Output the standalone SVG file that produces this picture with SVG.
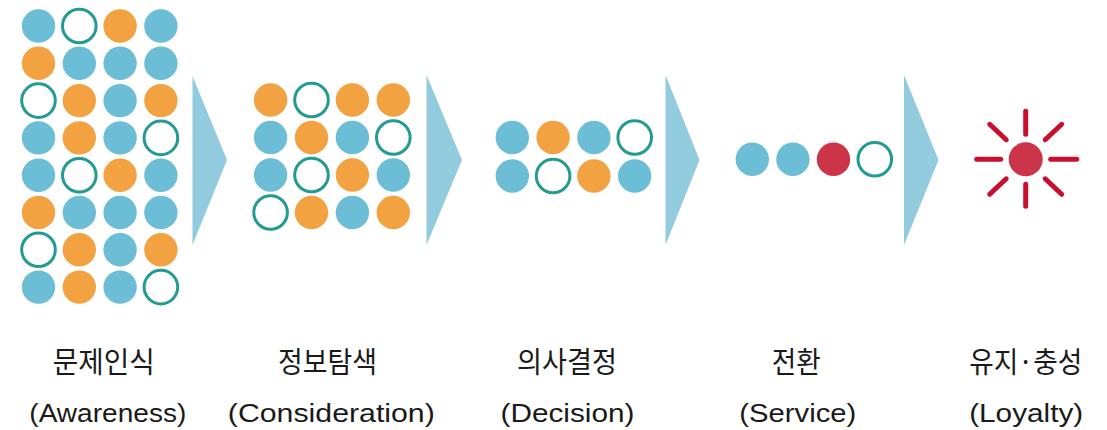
<svg xmlns="http://www.w3.org/2000/svg" width="1107" height="430" viewBox="0 0 1107 430">
  <style>
    .b { fill: #6bbed6; }
    .o { fill: #f2a240; }
    .r { fill: none; stroke: #249b91; stroke-width: 3; }
    .red { fill: #cc344a; }
    .ray { stroke: #c8102e; stroke-width: 5; stroke-linecap: round; }
    .arrow { fill: #92cbde; }
    .ko { font-family: "Noto Sans CJK KR", "Noto Sans", sans-serif; font-size: 29px; fill: #1a1a1a; text-anchor: middle; }
    .en { font-family: "Liberation Sans", "Noto Sans", sans-serif; font-size: 26px; fill: #1a1a1a; text-anchor: middle; }
  </style>
  <defs>
    <circle id="dB" r="16.7" class="b"/>
    <circle id="dO" r="16.7" class="o"/>
    <circle id="dR" r="16.8" class="r"/>
  </defs>

  <rect width="1107" height="430" fill="#ffffff"/>

  <!-- Stage 1: Awareness (8 x 4 grid) -->
  <g id="awareness">
    <g transform="translate(0,26)">
      <use href="#dB" x="38.5"/><use href="#dR" x="79.3"/><use href="#dO" x="120.1"/><use href="#dB" x="160.9"/>
    </g>
    <g transform="translate(0,63.3)">
      <use href="#dO" x="38.5"/><use href="#dB" x="79.3"/><use href="#dB" x="120.1"/><use href="#dB" x="160.9"/>
    </g>
    <g transform="translate(0,100.6)">
      <use href="#dR" x="38.5"/><use href="#dO" x="79.3"/><use href="#dB" x="120.1"/><use href="#dO" x="160.9"/>
    </g>
    <g transform="translate(0,137.9)">
      <use href="#dB" x="38.5"/><use href="#dO" x="79.3"/><use href="#dB" x="120.1"/><use href="#dR" x="160.9"/>
    </g>
    <g transform="translate(0,175.2)">
      <use href="#dB" x="38.5"/><use href="#dR" x="79.3"/><use href="#dO" x="120.1"/><use href="#dB" x="160.9"/>
    </g>
    <g transform="translate(0,212.5)">
      <use href="#dO" x="38.5"/><use href="#dB" x="79.3"/><use href="#dB" x="120.1"/><use href="#dB" x="160.9"/>
    </g>
    <g transform="translate(0,249.8)">
      <use href="#dR" x="38.5"/><use href="#dO" x="79.3"/><use href="#dB" x="120.1"/><use href="#dO" x="160.9"/>
    </g>
    <g transform="translate(0,287.1)">
      <use href="#dB" x="38.5"/><use href="#dO" x="79.3"/><use href="#dB" x="120.1"/><use href="#dR" x="160.9"/>
    </g>
    <text class="ko" x="103.7" y="372.5" textLength="102" lengthAdjust="spacingAndGlyphs">문제인식</text>
    <text class="en" x="107.8" y="421.5" textLength="157" lengthAdjust="spacingAndGlyphs">(Awareness)</text>
  </g>

  <!-- Stage 2: Consideration (4 x 4 grid) -->
  <g id="consideration">
    <g transform="translate(0,100)">
      <use href="#dO" x="270.6"/><use href="#dR" x="311.5"/><use href="#dO" x="352.4"/><use href="#dO" x="393.3"/>
    </g>
    <g transform="translate(0,137.5)">
      <use href="#dB" x="270.6"/><use href="#dO" x="311.5"/><use href="#dB" x="352.4"/><use href="#dR" x="393.3"/>
    </g>
    <g transform="translate(0,175)">
      <use href="#dB" x="270.6"/><use href="#dR" x="311.5"/><use href="#dO" x="352.4"/><use href="#dB" x="393.3"/>
    </g>
    <g transform="translate(0,212.5)">
      <use href="#dR" x="270.6"/><use href="#dO" x="311.5"/><use href="#dB" x="352.4"/><use href="#dO" x="393.3"/>
    </g>
    <text class="ko" x="327.5" y="372.5" textLength="99" lengthAdjust="spacingAndGlyphs">정보탐색</text>
    <text class="en" x="331.3" y="421.5" textLength="207" lengthAdjust="spacingAndGlyphs">(Consideration)</text>
  </g>

  <!-- Stage 3: Decision (2 x 4 grid) -->
  <g id="decision">
    <g transform="translate(0,137.5)">
      <use href="#dB" x="512.3"/><use href="#dO" x="553.1"/><use href="#dB" x="593.9"/><use href="#dR" x="634.7"/>
    </g>
    <g transform="translate(0,176)">
      <use href="#dB" x="512.3"/><use href="#dR" x="553.1"/><use href="#dO" x="593.9"/><use href="#dB" x="634.7"/>
    </g>
    <text class="ko" x="567" y="372.5" textLength="100" lengthAdjust="spacingAndGlyphs">의사결정</text>
    <text class="en" x="567.5" y="421.5" textLength="134" lengthAdjust="spacingAndGlyphs">(Decision)</text>
  </g>

  <!-- Stage 4: Service (single row) -->
  <g id="service">
    <g transform="translate(0,159.3)">
      <use href="#dB" x="752.3"/><use href="#dB" x="792.9"/>
      <circle cx="833.5" r="16.7" class="red"/>
      <use href="#dR" x="874.8"/>
    </g>
    <text class="ko" x="796.3" y="372.5" textLength="49" lengthAdjust="spacingAndGlyphs">전환</text>
    <text class="en" x="797.8" y="421.5" textLength="117" lengthAdjust="spacingAndGlyphs">(Service)</text>
  </g>

  <!-- Stage 5: Loyalty (radiant dot) -->
  <g id="loyalty">
    <g transform="translate(1025.7,159.3)">
      <circle r="17" class="red"/>
      <line class="ray" x1="-25" y1="0" x2="-49" y2="0"/>
      <line class="ray" x1="25" y1="0" x2="51" y2="0"/>
      <line class="ray" x1="0" y1="-25" x2="0" y2="-48"/>
      <line class="ray" x1="0" y1="25" x2="0" y2="47"/>
      <line class="ray" x1="-19.5" y1="-19.5" x2="-36" y2="-35"/>
      <line class="ray" x1="19.5" y1="-19.5" x2="36" y2="-35"/>
      <line class="ray" x1="-19.5" y1="19.5" x2="-36" y2="35"/>
      <line class="ray" x1="19.5" y1="19.5" x2="36" y2="35"/>
    </g>
    <text class="ko" x="1025.8" y="372.5" textLength="113" lengthAdjust="spacingAndGlyphs">유지·충성</text>
    <text class="en" x="1026.2" y="421.5" textLength="114" lengthAdjust="spacingAndGlyphs">(Loyalty)</text>
  </g>

  <!-- Connectors: chevron arrows between stages -->
  <g id="connectors">
    <polygon class="arrow" points="192.5,76 227,160 192.5,245"/>
    <polygon class="arrow" points="426.5,75 462,160 426.5,245"/>
    <polygon class="arrow" points="665.5,75 699.5,160 665.5,245"/>
    <polygon class="arrow" points="904,75 938.5,160 904,245"/>
  </g>
</svg>
